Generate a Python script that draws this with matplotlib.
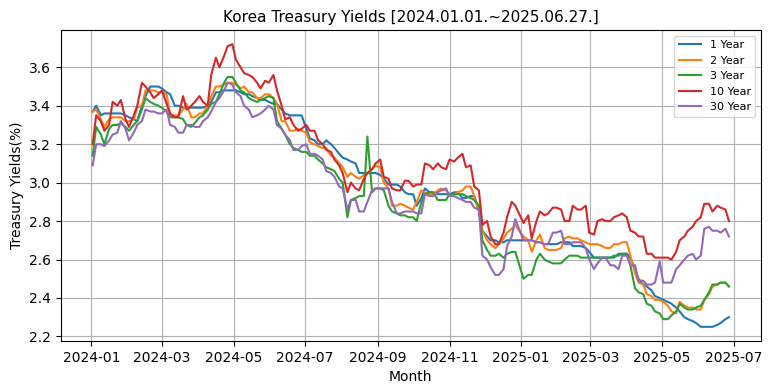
import numpy as np
import pandas as pd
import matplotlib
matplotlib.use('Agg')
import matplotlib.pyplot as plt
import matplotlib.dates as mdates

# readings taken twice a week (Tue / Fri), 2024-01-02 .. 2025-06-27
tue = pd.date_range('2024-01-02', '2025-06-27', freq='W-TUE')
fri = pd.date_range('2024-01-02', '2025-06-27', freq='W-FRI')
dates = tue.union(fri).drop(pd.Timestamp('2024-12-31'))

y1 = [3.37, 3.40, 3.35, 3.36, 3.36, 3.36, 3.36, 3.36, 3.35, 3.34, 3.33, 3.32, 3.40, 3.45,
      3.50, 3.50, 3.50, 3.49, 3.47, 3.46, 3.40, 3.40, 3.39, 3.39, 3.39, 3.39, 3.39, 3.39,
      3.40, 3.42, 3.47, 3.47, 3.48, 3.48, 3.48, 3.48, 3.47, 3.46, 3.46, 3.45, 3.44, 3.43,
      3.43, 3.42, 3.41, 3.41, 3.38, 3.36, 3.35, 3.35, 3.35, 3.35,
      3.28, 3.23, 3.22, 3.20, 3.20, 3.22, 3.20, 3.18, 3.15, 3.13, 3.12, 3.11, 3.10, 3.05,
      3.05, 3.05, 3.05, 3.05, 3.04, 3.02, 2.99, 2.99, 2.99, 2.98, 2.95, 2.94, 2.94, 2.88,
      2.92, 2.97, 2.95, 2.95, 2.94, 2.94, 2.94, 2.94, 2.95, 2.95, 2.92, 2.92, 2.93, 2.93,
      2.86, 2.75, 2.72, 2.70, 2.70, 2.69, 2.69, 2.70, 2.70, 2.70,
      2.70, 2.70, 2.70, 2.69, 2.69, 2.68, 2.68, 2.68, 2.68, 2.69, 2.69, 2.69, 2.67, 2.67,
      2.67, 2.66, 2.64, 2.61, 2.61, 2.61, 2.61, 2.61, 2.61, 2.63, 2.63, 2.63, 2.61, 2.55,
      2.50, 2.47, 2.46, 2.44, 2.41, 2.40, 2.39, 2.38, 2.37, 2.35, 2.33, 2.30, 2.29, 2.28,
      2.27, 2.25, 2.25, 2.25, 2.25, 2.26, 2.27, 2.29, 2.30]
y2 = [3.37, 3.38, 3.33, 3.29, 3.33, 3.34, 3.34, 3.34, 3.32, 3.32, 3.33, 3.39, 3.40, 3.48,
      3.48, 3.48, 3.47, 3.47, 3.46, 3.35, 3.35, 3.35, 3.38, 3.41, 3.34, 3.34, 3.36, 3.36,
      3.40, 3.45, 3.50, 3.50, 3.51, 3.52, 3.52, 3.51, 3.49, 3.50, 3.47, 3.47, 3.44, 3.44,
      3.46, 3.46, 3.44, 3.41, 3.32, 3.32, 3.27, 3.27, 3.28, 3.27,
      3.26, 3.21, 3.20, 3.19, 3.18, 3.18, 3.14, 3.13, 3.10, 3.08, 3.03, 3.05, 3.03, 3.02,
      3.04, 3.05, 3.07, 3.09, 3.08, 3.00, 2.97, 2.88, 2.88, 2.89, 2.88, 2.87, 2.86, 2.90,
      2.96, 2.95, 2.94, 2.94, 2.96, 2.97, 2.96, 2.94, 2.94, 2.95, 2.96, 2.98, 2.98, 2.93,
      2.85, 2.75, 2.70, 2.68, 2.66, 2.68, 2.71, 2.74, 2.76, 2.78,
      2.72, 2.70, 2.64, 2.70, 2.73, 2.66, 2.65, 2.65, 2.65, 2.66, 2.71, 2.72, 2.71, 2.71,
      2.70, 2.69, 2.68, 2.68, 2.68, 2.67, 2.66, 2.66, 2.68, 2.68, 2.69, 2.69, 2.62, 2.53,
      2.48, 2.47, 2.42, 2.41, 2.39, 2.39, 2.38, 2.36, 2.33, 2.32, 2.38, 2.36, 2.35, 2.35,
      2.34, 2.34, 2.39, 2.42, 2.46, 2.47, 2.48, 2.48, 2.46]
y3 = [3.14, 3.29, 3.25, 3.20, 3.28, 3.30, 3.30, 3.31, 3.29, 3.27, 3.30, 3.32, 3.38, 3.44,
      3.42, 3.41, 3.40, 3.39, 3.37, 3.34, 3.34, 3.34, 3.33, 3.30, 3.29, 3.31, 3.34, 3.35,
      3.38, 3.41, 3.42, 3.46, 3.52, 3.55, 3.55, 3.52, 3.48, 3.47, 3.44, 3.43, 3.42, 3.43,
      3.44, 3.45, 3.44, 3.32, 3.28, 3.25, 3.20, 3.18, 3.17, 3.16,
      3.16, 3.14, 3.14, 3.12, 3.10, 3.08, 3.07, 3.06, 3.02, 3.00, 2.82, 2.91, 2.92, 2.93,
      2.93, 3.24, 2.95, 2.97, 2.97, 2.96, 2.88, 2.85, 2.84, 2.83, 2.83, 2.82, 2.82, 2.80,
      2.90, 2.94, 2.95, 2.95, 2.91, 2.91, 2.91, 2.94, 2.94, 2.94, 2.94, 2.93, 2.92, 2.91,
      2.88, 2.70, 2.65, 2.62, 2.62, 2.63, 2.61, 2.63, 2.64, 2.64,
      2.50, 2.52, 2.52, 2.60, 2.63, 2.60, 2.59, 2.58, 2.58, 2.58, 2.60, 2.62, 2.62, 2.62,
      2.61, 2.61, 2.61, 2.61, 2.61, 2.61, 2.61, 2.61, 2.62, 2.62, 2.63, 2.63, 2.57, 2.45,
      2.43, 2.42, 2.37, 2.36, 2.33, 2.32, 2.29, 2.29, 2.31, 2.33, 2.37, 2.35, 2.34, 2.34,
      2.35, 2.36, 2.39, 2.43, 2.47, 2.47, 2.48, 2.48, 2.46]
y10 = [3.20, 3.35, 3.32, 3.27, 3.30, 3.42, 3.40, 3.43, 3.33, 3.29, 3.35, 3.40, 3.52, 3.50,
       3.47, 3.44, 3.46, 3.48, 3.41, 3.36, 3.34, 3.34, 3.45, 3.38, 3.40, 3.42, 3.45, 3.42,
       3.40, 3.56, 3.65, 3.60, 3.66, 3.71, 3.72, 3.64, 3.60, 3.57, 3.56, 3.55, 3.52, 3.49,
       3.53, 3.52, 3.56, 3.48, 3.40, 3.33, 3.34, 3.30, 3.27, 3.28,
       3.30, 3.27, 3.27, 3.22, 3.20, 3.17, 3.16, 3.12, 3.09, 3.05, 2.95, 3.00, 2.97, 2.96,
       3.02, 3.05, 3.07, 3.10, 3.12, 3.03, 3.02, 2.97, 2.96, 2.96, 3.01, 3.01, 2.98, 2.99,
       2.99, 3.10, 3.09, 3.07, 3.10, 3.08, 3.07, 3.12, 3.11, 3.13, 3.15, 3.08, 3.09, 2.98,
       2.96, 2.78, 2.80, 2.72, 2.68, 2.68, 2.74, 2.82, 2.90, 2.88,
       2.79, 2.83, 2.71, 2.80, 2.85, 2.83, 2.84, 2.87, 2.87, 2.86, 2.80, 2.80, 2.88, 2.86,
       2.86, 2.88, 2.74, 2.73, 2.80, 2.81, 2.80, 2.80, 2.82, 2.83, 2.84, 2.82, 2.75, 2.74,
       2.72, 2.72, 2.63, 2.63, 2.61, 2.61, 2.61, 2.61, 2.60, 2.64, 2.70, 2.72, 2.75, 2.77,
       2.80, 2.82, 2.89, 2.89, 2.85, 2.88, 2.87, 2.86, 2.80]
y30 = [3.09, 3.20, 3.20, 3.19, 3.22, 3.25, 3.26, 3.32, 3.28, 3.22, 3.26, 3.30, 3.32, 3.38,
       3.37, 3.37, 3.36, 3.36, 3.38, 3.30, 3.29, 3.26, 3.26, 3.30, 3.30, 3.29, 3.29, 3.32,
       3.34, 3.37, 3.42, 3.44, 3.48, 3.52, 3.51, 3.47, 3.45, 3.40, 3.38, 3.34, 3.35, 3.36,
       3.38, 3.40, 3.38, 3.30, 3.28, 3.25, 3.22, 3.17, 3.17, 3.19,
       3.20, 3.15, 3.15, 3.14, 3.12, 3.06, 3.05, 3.03, 2.98, 2.97, 2.86, 2.91, 2.91, 2.85,
       2.85, 2.90, 2.96, 2.97, 2.97, 2.97, 2.97, 2.90, 2.84, 2.84, 2.85, 2.85, 2.85, 2.84,
       2.84, 2.94, 2.93, 2.93, 2.95, 2.96, 2.97, 2.93, 2.93, 2.92, 2.91, 2.90, 2.90, 2.87,
       2.86, 2.62, 2.60, 2.56, 2.52, 2.52, 2.55, 2.67, 2.72, 2.81,
       2.70, 2.70, 2.70, 2.69, 2.69, 2.68, 2.68, 2.74, 2.74, 2.75, 2.68, 2.68, 2.69, 2.69,
       2.69, 2.66, 2.60, 2.55, 2.58, 2.61, 2.61, 2.57, 2.57, 2.55, 2.62, 2.62, 2.57, 2.57,
       2.49, 2.49, 2.47, 2.47, 2.48, 2.59, 2.48, 2.48, 2.48, 2.55, 2.57, 2.60, 2.62, 2.63,
       2.60, 2.62, 2.76, 2.77, 2.75, 2.75, 2.74, 2.76, 2.72]

labels = ['1 Year', '2 Year', '3 Year', '10 Year', '30 Year']

fig = plt.figure(figsize=(7.7, 3.91), dpi=100)
ax = fig.add_subplot(111)
fig.subplots_adjust(left=0.079, right=0.988, top=0.923, bottom=0.128)

for ys, lab in zip([y1, y2, y3, y10, y30], labels):
    ax.plot(dates, ys, label=lab)

ax.set_title('Korea Treasury Yields [2024.01.01.~2025.06.27.]', fontsize=11)
ax.set_xlabel('Month')
ax.set_ylabel('Treasury Yields(%)')
ax.xaxis.set_major_locator(mdates.MonthLocator(bymonth=[1, 3, 5, 7, 9, 11]))
ax.xaxis.set_major_formatter(mdates.DateFormatter('%Y-%m'))
ax.set_yticks(np.arange(2.2, 3.61, 0.2))
ax.grid(True)
ax.legend(loc='upper right', fontsize=8)

fig.savefig('out.png', dpi=100)
